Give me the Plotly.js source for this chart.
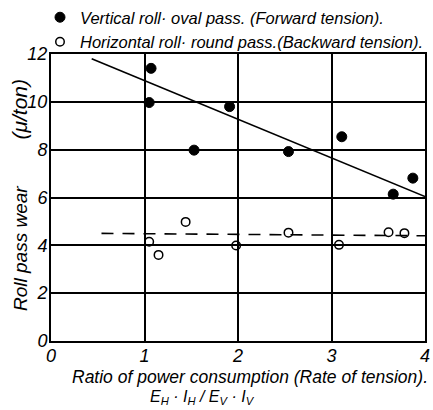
<!DOCTYPE html>
<html>
<head>
<meta charset="utf-8">
<script src="https://cdn.plot.ly/plotly-3.0.1.min.js"></script>
<style>html,body{margin:0;padding:0;background:#fff;}#chart{width:433px;height:410px;}</style>
</head>
<body>
<div id="chart"></div>
<script>
// Vertical roll · oval pass (forward tension) — filled circles
const vertX = [1.07, 1.05, 1.53, 1.91, 2.54, 3.11, 3.66, 3.87];
const vertY = [11.4, 9.97, 7.98, 9.80, 7.92, 8.54, 6.14, 6.81];
// Horizontal roll · round pass (backward tension) — open circles
const horX = [1.05, 1.15, 1.44, 1.98, 2.54, 3.08, 3.61, 3.78];
const horY = [4.15, 3.60, 4.98, 3.99, 4.53, 4.02, 4.55, 4.51];
// Fitted lines
const vertFitX = [0.435, 4.0];
const vertFitY = [11.8, 6.04];
const horFitX = [0.54, 4.0];
const horFitY = [4.5, 4.4];

const xTicks = [0, 1, 2, 3, 4];
const xTickText = ['0', '1', '2', '3', '4'];
const yTicks = [0, 2, 4, 6, 8, 10, 12];
const yTickText = ['0', '2', '4', '6', '8', '10', '12'];

const FONT = 'Liberation Sans, DejaVu Sans, sans-serif';
const NFONT = 'Liberation Sans Narrow, Liberation Sans, sans-serif';

const traces = [
  {x: vertFitX, y: vertFitY, mode: 'lines', line: {color: '#000', width: 1.6}, showlegend: false, hoverinfo: 'skip'},
  {x: horFitX, y: horFitY, mode: 'lines', line: {color: '#000', width: 1.6, dash: '12px,9px'}, showlegend: false, hoverinfo: 'skip'},
  {x: vertX, y: vertY, mode: 'markers', name: 'Vertical roll· oval pass. (Forward tension).',
   marker: {symbol: 'circle', size: 10, color: '#000', line: {color: '#000', width: 1}}},
  {x: horX, y: horY, mode: 'markers', name: 'Horizontal roll· round pass.(Backward tension).',
   marker: {symbol: 'circle-open', size: 8.5, color: '#000', line: {color: '#000', width: 1.5}}}
];

const layout = {
  width: 433, height: 410,
  margin: {l: 51, r: 8, t: 54, b: 69, autoexpand: false},
  paper_bgcolor: '#fff', plot_bgcolor: '#fff',
  font: {family: FONT, color: '#000'},
  showlegend: true,
  legend: {xref: 'container', yref: 'container', x: 40 / 433, y: 1 + 7 / 410, xanchor: 'left', yanchor: 'top',
           bgcolor: 'rgba(0,0,0,0)',
           font: {family: FONT, size: 16.5, style: 'italic', color: '#000'}, itemwidth: 30, tracegroupgap: 0},
  xaxis: {range: [0, 4], tickvals: xTicks, ticktext: xTickText, showgrid: true, gridcolor: '#000', gridwidth: 2,
          zeroline: false, showline: true, mirror: true, linecolor: '#000', linewidth: 2, ticks: '',
          ticklabelstandoff: -3,
          tickfont: {family: NFONT, size: 18, style: 'italic', color: '#000'}, fixedrange: true},
  yaxis: {range: [0, 12], tickvals: yTicks, ticktext: yTickText, showgrid: true, gridcolor: '#000', gridwidth: 2,
          zeroline: false, showline: true, mirror: true, linecolor: '#000', linewidth: 2, ticks: '',
          ticklabelstandoff: -2,
          tickfont: {family: NFONT, size: 18, style: 'italic', color: '#000'}, fixedrange: true},
  annotations: [
    {xref: 'paper', yref: 'paper', x: -0.083, y: 0.324, xanchor: 'center', yanchor: 'middle', textangle: -90, showarrow: false,
     text: 'Roll pass wear', font: {family: FONT, size: 19, style: 'italic', color: '#000'}},
    {xref: 'paper', yref: 'paper', x: -0.083, y: 0.81, xanchor: 'center', yanchor: 'middle', textangle: -90, showarrow: false,
     text: '(μ/ton)', font: {family: FONT, size: 21, style: 'italic', color: '#000'}},
    {xref: 'paper', yref: 'paper', x: 1.01, y: -0.087, xanchor: 'right', yanchor: 'top', showarrow: false, borderpad: 0,
     text: 'Ratio of power consumption (Rate of tension).', font: {family: FONT, size: 17.5, style: 'italic', color: '#000'}},
    {xref: 'paper', yref: 'paper', x: 0.406, y: -0.233, xanchor: 'center', yanchor: 'bottom', showarrow: false, borderpad: 0,
     text: 'E<sub>H</sub> · I<sub>H</sub> / E<sub>V</sub> · I<sub>V</sub>', font: {family: FONT, size: 16, style: 'italic', color: '#000'}}
  ]
};

Plotly.newPlot('chart', traces, layout, {displayModeBar: false, staticPlot: true});
</script>
</body>
</html>
